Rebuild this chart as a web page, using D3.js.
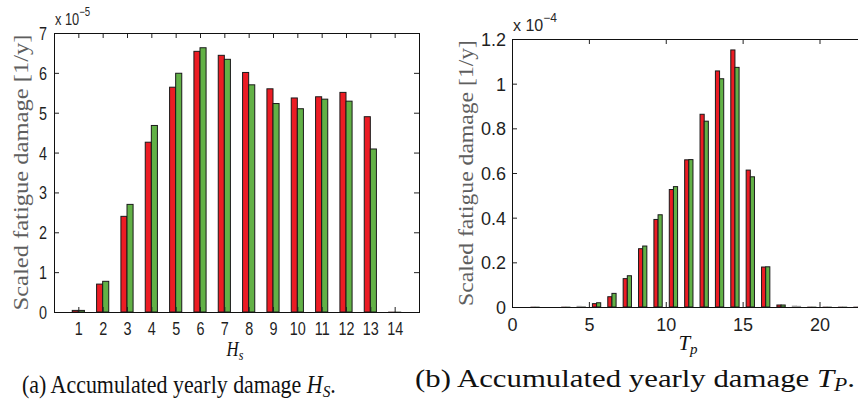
<!DOCTYPE html>
<html><head><meta charset="utf-8">
<script src="https://cdn.jsdelivr.net/npm/d3@7"></script>
<style>body{margin:0;background:#fff}svg{display:block}</style>
</head><body>
<svg id="c" width="858" height="409"></svg>
<script>
// ---- data (left: Hs) ----
const hsCategories = [1,2,3,4,5,6,7,8,9,10,11,12,13,14];
const hsSeriesRed   = [0.04,0.70,2.40,4.26,5.64,6.54,6.44,6.01,5.60,5.37,5.40,5.51,4.90,0.006];
const hsSeriesGreen = [0.04,0.77,2.70,4.68,5.99,6.63,6.34,5.70,5.23,5.10,5.34,5.29,4.09,0.006];
const hsYTicks = [0,1,2,3,4,5,6,7];
// ---- data (right: Tp) ----
const tpCategories = [0.5,1.5,2.5,3.5,4.5,5.5,6.5,7.5,8.5,9.5,10.5,11.5,12.5,13.5,14.5,15.5,16.5,17.5,18.5,19.5,20.5,21.5,22.5];
const tpSeriesRed   = [0,0.0008,0,0.0008,0.003,0.015,0.046,0.127,0.261,0.392,0.526,0.659,0.863,1.057,1.151,0.613,0.179,0.009,0.004,0.001,0.0008,0.0008,0.0008];
const tpSeriesGreen = [0,0.0008,0,0.0008,0.002,0.019,0.061,0.140,0.273,0.413,0.539,0.660,0.832,1.022,1.073,0.583,0.180,0.009,0.003,0.001,0.0008,0.0008,0.0008];
const tpXTicks = [0,5,10,15,20];
const tpYTicks = [0,0.2,0.4,0.6,0.8,1,1.2];

const RED = "#ec1c24", GREEN = "#62b146";
const svg = d3.select("#c");

function panel(o){
  const g = svg.append("g");
  const x = d3.scaleLinear().domain(o.xDomain).range([o.x0, o.x1]);
  const y = d3.scaleLinear().domain(o.yDomain).range([o.y1, o.y0]);
  const bw = o.barW, sx = o.sx;
  const data = o.cats.map((c,i)=>({c, r:o.red[i], g:o.green[i]}));
  const bars = g.append("g");
  function addBars(key, off, fill){
    bars.selectAll(null).data(data).enter().append("rect")
      .attr("x", d=>x(d.c+off))
      .attr("y", d=>y(d[key]))
      .attr("width", x(bw)-x(0))
      .attr("height", d=>y(0)-y(d[key]))
      .attr("fill", fill)
      .attr("stroke", d=> (y(0)-y(d[key]) < 1.2) ? "#a0a0a0" : "#1a1a1a")
      .attr("stroke-width", 1);
  }
  addBars("r", -bw, RED);
  addBars("g", 0, GREEN);

  const fontTick = "18px 'Liberation Sans', Arial, sans-serif";
  const ya = g.append("g").attr("transform",`translate(${o.x0},0)`)
    .call(d3.axisLeft(y).tickValues(o.yTicks).tickSize(-5).tickPadding(0).tickFormat(d3.format("~g")));
  const yr = g.append("g").attr("transform",`translate(${o.x1},0)`)
    .call(d3.axisRight(y).tickValues(o.yTicks).tickSize(-5).tickFormat(""));
  const xb = g.append("g").attr("transform",`translate(0,${o.y1})`)
    .call(d3.axisBottom(x).tickValues(o.xTicks).tickSize(-5).tickPadding(0).tickFormat(d3.format("~g")));
  const xt = g.append("g").attr("transform",`translate(0,${o.y0})`)
    .call(d3.axisTop(x).tickValues(o.xTicks).tickSize(-5).tickFormat(""));
  [ya,yr,xb,xt].forEach(a=>{a.select(".domain").remove(); a.selectAll("line").attr("stroke","#222");});
  ya.selectAll("text").attr("x",null).attr("dy",null)
    .attr("transform",`translate(${-o.yLabPad},6.5) scale(${sx},1)`)
    .style("font",fontTick).attr("fill","#1f1f1f");
  xb.selectAll("text").attr("y",null).attr("dy",null)
    .attr("transform",`translate(0,${o.xLabPad}) scale(${sx},1)`)
    .style("font",fontTick).attr("fill","#1f1f1f");
  g.append("rect").attr("x",o.x0+0.5).attr("y",o.y0+0.5)
    .attr("width",o.x1-o.x0).attr("height",o.y1-o.y0)
    .attr("fill","none").attr("stroke","#111").attr("stroke-width",1);
  const ex = g.append("text").attr("transform",`translate(${o.x0+1},${o.y0-8}) scale(${sx},1)`)
    .style("font","16px 'Liberation Sans', Arial, sans-serif").attr("fill","#262626");
  ex.append("tspan").text("x 10");
  ex.append("tspan").attr("dy",-9).style("font-size","12px").text(o.exp);
  g.append("text").attr("transform",`translate(${o.yLabX},${(o.y0+o.y1)/2}) rotate(-90)`)
    .attr("text-anchor","middle")
    .style("font-family","'Liberation Serif', 'Times New Roman', serif").style("font-size","21px")
    .attr("fill","#5e5e5e")
    .attr("textLength",o.yLabLen).attr("lengthAdjust","spacingAndGlyphs")
    .text("Scaled fatigue damage [1/y]");
  const xl = g.append("text").attr("transform",`translate(${o.xLabX},${o.xLabY}) scale(${sx},1)`)
    .attr("text-anchor","middle")
    .style("font","italic 21px 'Liberation Serif', 'Times New Roman', serif").attr("fill","#111");
  xl.append("tspan").text(o.xName);
  xl.append("tspan").attr("dy",4).style("font-size","15px").text(o.xSub);
  // caption: natural layout, then stretched horizontally to the measured width
  const cap = g.append("text")
    .style("font",`${o.capFont}px 'Liberation Serif', 'Times New Roman', serif`).attr("fill","#111");
  cap.append("tspan").text(o.capText+" ");
  cap.append("tspan").style("font-style","italic").text(o.xName);
  cap.append("tspan").attr("dy",4).style("font-size",(o.capFont*0.7)+"px").style("font-style","italic").text(o.capSub);
  cap.append("tspan").attr("dy",-4).text(".");
  const w = cap.node().getBBox().width;
  cap.attr("transform",`translate(${o.capX},${o.capY}) scale(${o.capLen/w},1)`);
}

panel({
  x0:54, x1:419, y0:33, y1:312, xDomain:[0,15], yDomain:[0,7], barW:0.25, sx:0.8,
  cats:hsCategories, red:hsSeriesRed, green:hsSeriesGreen,
  yTicks:hsYTicks, xTicks:hsCategories, yLabPad:7, xLabPad:23,
  exp:"\u22125", yLabX:28, yLabLen:276,
  xName:"H", xSub:"s", xLabX:235, xLabY:356,
  capText:"(a) Accumulated yearly damage", capSub:"S", capX:22, capY:393, capLen:314, capFont:25
});
panel({
  x0:512, x1:881, y0:39, y1:307, xDomain:[0,24], yDomain:[0,1.2], barW:0.27, sx:1,
  cats:tpCategories, red:tpSeriesRed, green:tpSeriesGreen,
  yTicks:tpYTicks, xTicks:tpXTicks, yLabPad:6, xLabPad:24,
  exp:"\u22124", yLabX:473, yLabLen:266,
  xName:"T", xSub:"p", xLabX:688, xLabY:350,
  capText:"(b) Accumulated yearly damage", capSub:"P", capX:415, capY:387, capLen:440, capFont:26
});
</script>
</body></html>
